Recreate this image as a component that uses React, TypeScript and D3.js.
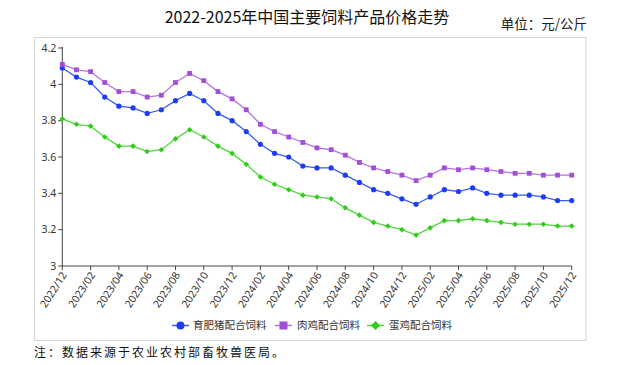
import React from "react";
import * as d3 from "d3";

const months = [
  "2022/12", "2023/01", "2023/02", "2023/03", "2023/04", "2023/05", "2023/06", "2023/07", "2023/08",
  "2023/09", "2023/10", "2023/11", "2023/12", "2024/01", "2024/02", "2024/03", "2024/04", "2024/05",
  "2024/06", "2024/07", "2024/08", "2024/09", "2024/10", "2024/11", "2024/12", "2025/01", "2025/02",
  "2025/03", "2025/04", "2025/05", "2025/06", "2025/07", "2025/08", "2025/09", "2025/10", "2025/11",
  "2025/12",
];

// 育肥猪配合饲料
const pigFeed = [
  4.09, 4.04, 4.01, 3.93, 3.88, 3.87, 3.84, 3.86, 3.91, 3.95, 3.91, 3.84, 3.8, 3.74, 3.67, 3.62, 3.6,
  3.55, 3.54, 3.54, 3.5, 3.46, 3.42, 3.4, 3.37, 3.34, 3.38, 3.42, 3.41, 3.43, 3.4, 3.39, 3.39, 3.39,
  3.38, 3.36, 3.36,
];
// 肉鸡配合饲料
const broilerFeed = [
  4.11, 4.08, 4.07, 4.01, 3.96, 3.96, 3.93, 3.94, 4.01, 4.06, 4.02, 3.96, 3.92, 3.86, 3.78, 3.74, 3.71,
  3.68, 3.65, 3.64, 3.61, 3.57, 3.54, 3.52, 3.5, 3.47, 3.5, 3.54, 3.53, 3.54, 3.53, 3.52, 3.51, 3.51,
  3.5, 3.5, 3.5,
];
// 蛋鸡配合饲料
const layerFeed = [
  3.81, 3.78, 3.77, 3.71, 3.66, 3.66, 3.63, 3.64, 3.7, 3.75, 3.71, 3.66, 3.62, 3.56, 3.49, 3.45, 3.42,
  3.39, 3.38, 3.37, 3.32, 3.28, 3.24, 3.22, 3.2, 3.17, 3.21, 3.25, 3.25, 3.26, 3.25, 3.24, 3.23, 3.23,
  3.23, 3.22, 3.22,
];

const yTicks = [3, 3.2, 3.4, 3.6, 3.8, 4, 4.2];

const series = [
  { name: "育肥猪配合饲料", values: pigFeed, line: "#3d5cf2", mark: "#1d3cf4", shape: "circle" },
  { name: "肉鸡配合饲料", values: broilerFeed, line: "#b574e3", mark: "#a24fd8", shape: "square" },
  { name: "蛋鸡配合饲料", values: layerFeed, line: "#4fd63c", mark: "#2fcc18", shape: "diamond" },
];

const W = 619;
const H = 365;
const left = 62.3;
const right = 571.7;
const top = 48;
const bottom = 266;

const x = d3.scaleLinear().domain([0, months.length - 1]).range([left, right]);
const y = d3.scaleLinear().domain([3, 4.2]).range([bottom, top]);

const sans = "'Noto Sans', 'Noto Sans CJK SC', sans-serif";
const cjk = "'Noto Sans CJK SC', sans-serif";

function Marker({ shape, cx, cy, fill }: { shape: string; cx: number; cy: number; fill: string }) {
  if (shape === "circle") return <circle cx={cx} cy={cy} r={2.6} fill={fill} />;
  if (shape === "square") return <rect x={cx - 2.4} y={cy - 2.4} width={4.8} height={4.8} fill={fill} />;
  const s = 2.8;
  return (
    <path
      d={`M${cx},${cy - s}L${cx + s},${cy}L${cx},${cy + s}L${cx - s},${cy}Z`}
      fill={fill}
    />
  );
}

export default function App() {
  const line = d3
    .line<number>()
    .x((_, i) => x(i))
    .y((d) => y(d));

  const legendItems = [
    { lx: 172, tx: 193 },
    { lx: 275, tx: 297 },
    { lx: 367, tx: 389 },
  ];

  return (
    <svg
      width={W}
      height={H}
      style={{ position: "absolute", left: 0, top: 0, background: "#fff" }}
    >
      <text x={307} y={23} textAnchor="middle" fontFamily={cjk} fontSize={16} fill="#111">
        2022-2025年中国主要饲料产品价格走势
      </text>
      <text x={587} y={29} textAnchor="end" fontFamily={cjk} fontSize={13.5} fill="#222">
        单位：元/公斤
      </text>

      <rect x={34.5} y={37.5} width={551.5} height={303} fill="none" stroke="#d6d6d6" />

      {/* y axis */}
      <line x1={left} x2={left} y1={top - 1} y2={bottom} stroke="#444" />
      {yTicks.map((t) => (
        <g key={t}>
          <line x1={left - 4} x2={left} y1={y(t)} y2={y(t)} stroke="#444" />
          <text
            x={left - 6}
            y={y(t)}
            dy="0.35em"
            textAnchor="end"
            fontFamily={sans}
            fontSize={10.5}
            fill="#333"
          >
            {t === 3 || t === 4 ? t : t.toFixed(1)}
          </text>
        </g>
      ))}

      {/* x axis */}
      <line x1={left} x2={right} y1={bottom} y2={bottom} stroke="#444" />
      {months.map((m, i) =>
        i % 2 === 0 ? (
          <g key={m} transform={`translate(${x(i)},${bottom})`}>
            <line y1={0} y2={4} stroke="#444" />
            <text
              transform="translate(2,7) rotate(-57)"
              textAnchor="end"
              dy="0.35em"
              fontFamily={sans}
              fontSize={10.5}
              fill="#333"
            >
              {m}
            </text>
          </g>
        ) : null
      )}

      {series.map((s) => (
        <g key={s.name}>
          <path d={line(s.values) || ""} fill="none" stroke={s.line} strokeWidth={1.3} />
          {s.values.map((v, i) => (
            <Marker key={i} shape={s.shape} cx={x(i)} cy={y(v)} fill={s.mark} />
          ))}
        </g>
      ))}

      {/* legend */}
      {series.map((s, k) => {
        const { lx, tx } = legendItems[k];
        const ly = 325.5;
        return (
          <g key={s.name}>
            <line x1={lx} x2={lx + 17} y1={ly} y2={ly} stroke={s.line} strokeWidth={1.5} />
            {s.shape === "circle" ? (
              <circle cx={lx + 8.5} cy={ly} r={4} fill={s.mark} />
            ) : s.shape === "square" ? (
              <rect x={lx + 4.5} y={ly - 4} width={8} height={8} fill={s.mark} />
            ) : (
              <path
                d={`M${lx + 8.5},${ly - 4.5}L${lx + 13},${ly}L${lx + 8.5},${ly + 4.5}L${lx + 4},${ly}Z`}
                fill={s.mark}
              />
            )}
            <text x={tx} y={ly} dy="0.36em" fontFamily={cjk} fontSize={10.5} fill="#333">
              {s.name}
            </text>
          </g>
        );
      })}

      <text x={34} y={357} fontFamily={cjk} fontSize={12} letterSpacing={2} fill="#111">
        注：数据来源于农业农村部畜牧兽医局。
      </text>
    </svg>
  );
}
